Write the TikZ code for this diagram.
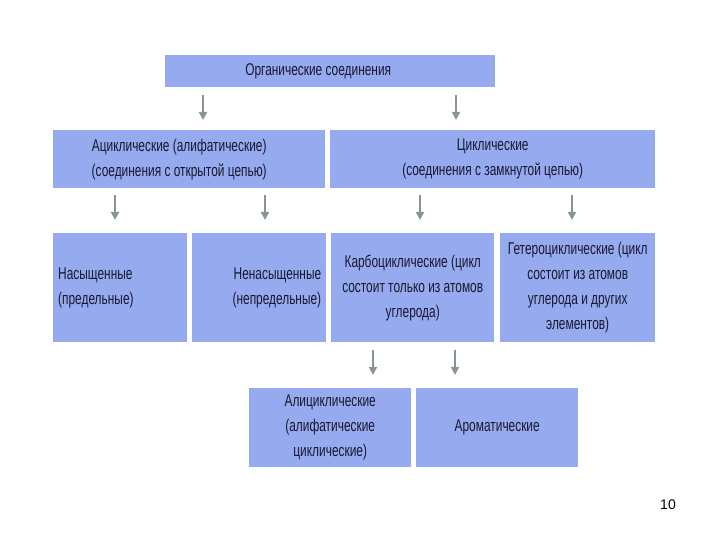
\documentclass[tikz,border=0pt]{standalone}
\usepackage{fontspec}
\setmainfont[FakeStretch=0.7]{Liberation Sans}
\newfontfamily\numfont{Liberation Sans}
\usetikzlibrary{arrows.meta}
\definecolor{boxblue}{RGB}{150,170,240}
\definecolor{arrgray}{RGB}{135,150,145}
\definecolor{txt}{RGB}{25,25,45}
\tikzset{
  box/.style={fill=boxblue, anchor=north west, inner sep=0pt, align=center,
    font=\fontsize{17}{25}\selectfont, text=txt},
  arr/.style={draw=arrgray, line width=1.8pt,
    -{Triangle[width=8pt,length=8pt]}}
}
\begin{document}
\begin{tikzpicture}[x=1pt,y=-1pt]
  \useasboundingbox[fill=white] (0,0) rectangle (720,540);

  % level 1
  \node[box, minimum width=330, minimum height=32] (org) at (165,55)
    {\hspace*{-24pt}Органические соединения};

  % level 2
  \node[box, minimum width=272, minimum height=58] (acyc) at (53,130)
    {\hspace*{-20pt}Ациклические (алифатические)\\\hspace*{-20pt}(соединения с открытой цепью)};
  \node[box, minimum width=325, minimum height=58] (cyc) at (330,130)
    {Циклические\\(соединения с замкнутой цепью)};

  % level 3
  \node[box, minimum width=134, minimum height=109, text width=124, align=left] (sat) at (53,233)
    {Насыщенные\\(предельные)};
  \node[box, minimum width=134, minimum height=109, text width=124, align=right] (unsat) at (192,233)
    {Ненасыщенные\\(непредельные)};
  \node[box, minimum width=163, minimum height=109] (carbo) at (331,233)
    {Карбоциклические (цикл\\состоит только из атомов\\углерода)};
  \node[box, minimum width=155, minimum height=109] (hetero) at (500,233)
    {Гетероциклические (цикл\\состоит из атомов\\углерода и других\\элементов)};

  % level 4
  \node[box, minimum width=162, minimum height=79] (alicyc) at (249,388)
    {Алициклические\\(алифатические\\циклические)};
  \node[box, minimum width=162, minimum height=79] (arom) at (416,388)
    {Ароматические};

  \node[font=\numfont\fontsize{14}{16}\selectfont] (pg) at (668,505) {10};

  % arrows
  \draw[arr, shorten <=8pt, shorten >=10pt] (org.south -| 203,0) -- (acyc.north -| 203,0);
  \draw[arr, shorten <=8pt, shorten >=10pt] (org.south -| 456,0) -- (cyc.north -| 456,0);
  \foreach \x/\a/\b in {115/acyc/sat, 265/acyc/unsat, 420/cyc/carbo, 572/cyc/hetero}
    \draw[arr, shorten <=7pt, shorten >=13pt] (\a.south -| \x,0) -- (\b.north -| \x,0);
  \draw[arr, shorten <=8pt, shorten >=13pt] (carbo.south -| 373,0) -- (alicyc.north -| 373,0);
  \draw[arr, shorten <=8pt, shorten >=13pt] (carbo.south -| 455,0) -- (arom.north -| 455,0);
\end{tikzpicture}
\end{document}
